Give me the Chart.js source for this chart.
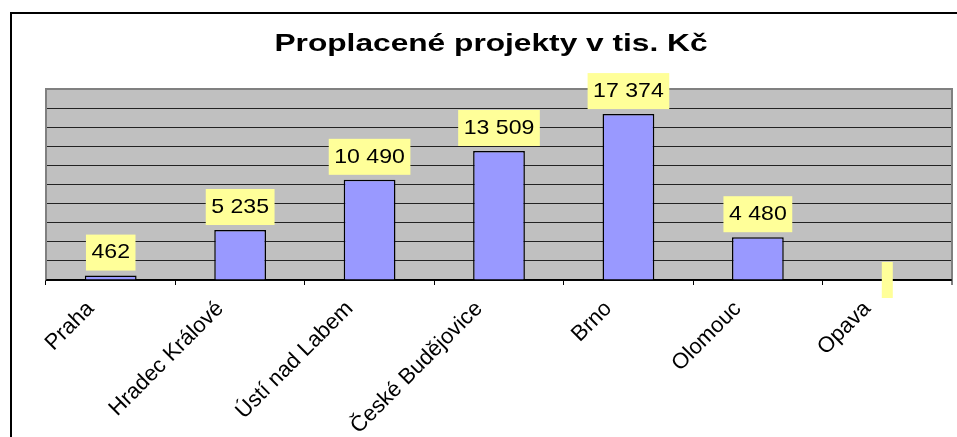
<!DOCTYPE html>
<html>
<head>
<meta charset="utf-8">
<script src="https://cdn.jsdelivr.net/npm/chart.js@4/dist/chart.umd.min.js"></script>
<style>
  html, body { margin: 0; padding: 0; background: #fff; }
  #wrap { width: 957px; height: 437px; }
</style>
</head>
<body>
<div id="wrap"><canvas id="myChart" width="957" height="437"></canvas></div>
<script>
// data
const chartTitle = 'Proplacené projekty v tis. Kč'
const cities = ['Praha', 'Hradec Králové', 'Ústí nad Labem', 'České Budějovice', 'Brno', 'Olomouc', 'Opava']
const paid = [462, 5235, 10490, 13509, 17374, 4480, null]
const yMin = 0
const yMax = 20000
const yStep = 2000

// "17374" -> "17 374"
function fmt(v) {
  if (v === null) return ''
  return String(v).replace(/\B(?=(\d{3})+(?!\d))/g, ' ')
}

// the old excel picture has wide text, so it gets stretched a bit
function stretchedText(ctx, text, x, y, font, sx) {
  ctx.save()
  ctx.font = font
  ctx.translate(x, y)
  ctx.scale(sx, 1)
  ctx.fillText(text, 0, 0)
  ctx.restore()
}

const excelLook = {
  id: 'excelLook',
  beforeDraw(chart) {
    const { ctx, chartArea: a } = chart
    ctx.save()
    ctx.fillStyle = '#c0c0c0'
    ctx.fillRect(a.left, a.top, a.right - a.left, a.bottom - a.top)
    // outer frame, right and bottom edges fall off the picture
    ctx.strokeStyle = '#000'
    ctx.lineWidth = 2
    ctx.strokeRect(11, 13, 1000, 1000)
    // title
    ctx.fillStyle = '#000'
    ctx.textAlign = 'center'
    ctx.textBaseline = 'alphabetic'
    stretchedText(ctx, chartTitle, 491, 51, 'bold 24px "Liberation Sans", Arial, sans-serif', 1.32)
    ctx.restore()
  },
  beforeDatasetsDraw(chart) {
    const { ctx, chartArea: a } = chart
    ctx.save()
    ctx.strokeStyle = '#808080'
    ctx.lineWidth = 2
    ctx.beginPath()
    ctx.moveTo(a.left, a.bottom)
    ctx.lineTo(a.left, a.top)
    ctx.lineTo(a.right, a.top)
    ctx.lineTo(a.right, a.bottom + 5)
    ctx.stroke()
    ctx.strokeStyle = '#000'
    ctx.lineWidth = 1.5
    ctx.beginPath()
    ctx.moveTo(a.left, a.bottom)
    ctx.lineTo(a.right, a.bottom)
    ctx.stroke()
    ctx.restore()
  },
  afterDatasetsDraw(chart) {
    const { ctx } = chart
    const xs = chart.scales.x
    const ys = chart.scales.y
    const font = '21px "Liberation Sans", Arial, sans-serif'
    const sx = 1.1
    const boxH = 36
    ctx.save()
    ctx.font = font
    paid.forEach((v, i) => {
      const txt = fmt(v)
      const cx = xs.getPixelForValue(i)
      const w = ctx.measureText(txt).width * sx + 11
      let top
      if (v === null) {
        top = ys.getPixelForValue(0) - boxH / 2
      } else {
        top = ys.getPixelForValue(v) - 5 - boxH
      }
      const bw = Math.max(w, 9)
      ctx.fillStyle = '#ffff99'
      ctx.fillRect(cx - bw / 2, top, bw, boxH)
      ctx.fillStyle = '#000'
      ctx.textAlign = 'center'
      ctx.textBaseline = 'middle'
      stretchedText(ctx, txt, cx, top + boxH / 2, font, sx)
    })
    ctx.restore()
  }
}

const ctx = document.getElementById('myChart')

const paidChart = new Chart(ctx, {
  type: 'bar',
  data: {
    labels: cities,
    datasets: [{
      label: 'Proplaceno',
      data: paid,
      backgroundColor: '#9999ff',
      borderColor: '#000',
      borderWidth: 1.5,
      categoryPercentage: 1,
      barPercentage: 0.4
    }]
  },
  options: {
    responsive: false,
    animation: false,
    layout: {
      padding: { left: 46, right: 5, top: 89, bottom: 0 }
    },
    plugins: {
      legend: { display: false },
      title: { display: false },
      tooltip: { enabled: false }
    },
    scales: {
      x: {
        offset: true,
        afterFit(s) { s.height = 157 },
        grid: {
          display: true,
          drawOnChartArea: false,
          drawTicks: true,
          tickLength: 5,
          color: '#000',
          offset: true
        },
        border: { display: true, color: '#000', width: 1.5 },
        ticks: {
          minRotation: 45,
          maxRotation: 45,
          autoSkip: false,
          labelOffset: -20,
          padding: 11,
          color: '#000',
          font: { family: '"Liberation Sans", Arial, sans-serif', size: 22 }
        }
      },
      y: {
        min: yMin,
        max: yMax,
        afterFit(s) { s.width = 0 },
        ticks: { display: false, stepSize: yStep },
        border: { display: false },
        grid: {
          drawTicks: false,
          lineWidth: 1,
          color: (c) => c.tick && c.tick.value === yMax ? '#808080' : '#222'
        }
      }
    }
  },
  plugins: [excelLook]
})
</script>
</body>
</html>
